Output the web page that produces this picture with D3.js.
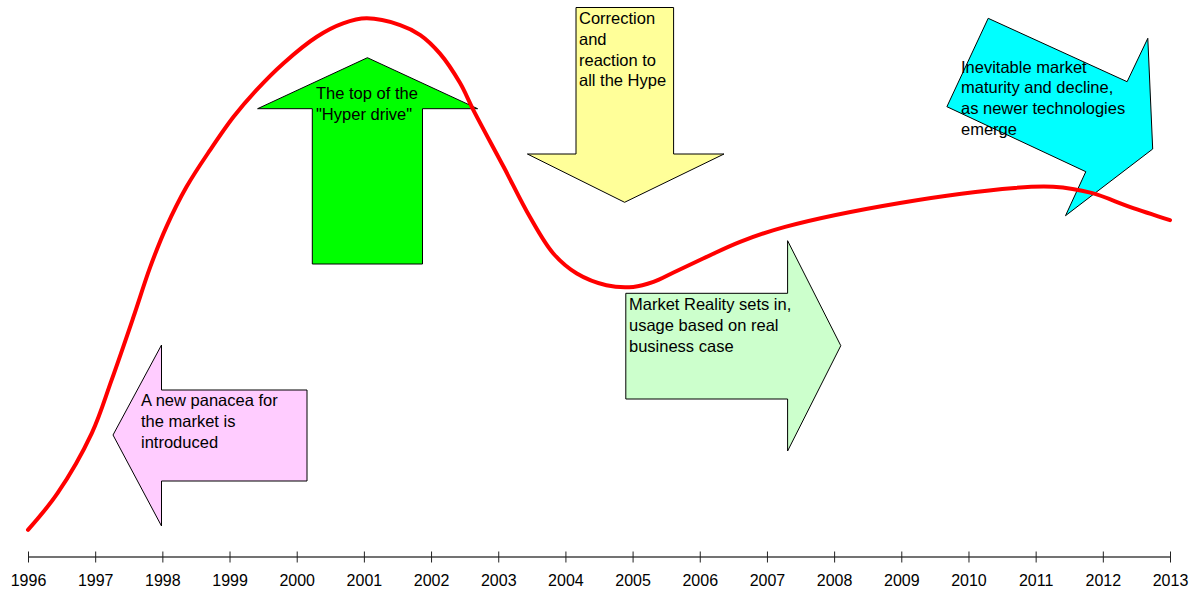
<!DOCTYPE html>
<html>
<head>
<meta charset="utf-8">
<script src="https://cdn.jsdelivr.net/npm/d3@7/dist/d3.min.js"></script>
<style>
  html, body { margin: 0; padding: 0; background: #fff; }
  svg { display: block; font-family: "Liberation Sans", Arial, sans-serif; }
</style>
</head>
<body>
<svg id="chart" width="1194" height="592"></svg>
<script>
// ---- Data ----
const tickYears = [1996, 1997, 1998, 1999, 2000, 2001, 2002, 2003, 2004,
                   2005, 2006, 2007, 2008, 2009, 2010, 2011, 2012, 2013];
const curveYears = [1996.0, 1996.44, 1996.95, 1997.24, 1997.57, 1997.82, 1998.06,
                    1998.36, 1998.71, 1999.06, 1999.40, 1999.80, 2000.30, 2000.69, 2001.04,
                    2001.54, 2001.84, 2002.13, 2002.43, 2002.63, 2003.08, 2003.47, 2003.82,
                    2004.17, 2004.61, 2005.01, 2005.31, 2005.61, 2006.05, 2006.60, 2007.27,
                    2008.98, 2010.69, 2011.26, 2011.83, 2012.40, 2013.0];
const curveValues = [4.7, 11.3, 22.1, 31.5, 43.0, 52.0, 59.2,
                     66.4, 73.0, 79.0, 83.8, 88.6, 93.4, 95.8, 96.7,
                     95.5, 93.7, 90.4, 85.1, 80.2, 70.0, 61.0, 54.4,
                     50.8, 48.7, 48.4, 49.3, 51.0, 53.5, 56.5, 59.2,
                     63.5, 66.2, 66.4, 65.3, 62.8, 60.4];
const noteTexts = [
  ["A new panacea for", "the market is", "introduced"],
  ["The top of the", "\"Hyper drive\""],
  ["Correction", "and", "reaction to", "all the Hype"],
  ["Market Reality sets in,", "usage based on real", "business case"],
  ["Inevitable market", "maturity and decline,", "as newer technologies", "emerge"]
];

// ---- Layout ----
const svg = d3.select("#chart");
const x = d3.scaleLinear().domain([1996, 2013]).range([28, 1170]);
const y = d3.scaleLinear().domain([0, 100]).range([556, 0]);
const axisY = 556.5;

const notes = [
  { fill: "#FFCCFF", pts: [[113,435],[161.5,345],[161.5,390],[307,390],[307,481],[161.5,481],[161.5,526]],
    tx: 141, ty: 406, lh: 21 },
  { fill: "#00FF00", pts: [[367.4,57.7],[477.6,108.7],[422.5,108.7],[422.5,264],[312.3,264],[312.3,108.7],[257.6,108.7]],
    tx: 316, ty: 99, lh: 21 },
  { fill: "#FFFF99", pts: [[576,7.5],[673.6,7.5],[673.6,154],[724,154],[624.6,202.3],[527.4,154],[576,154]],
    tx: 579, ty: 24, lh: 20.8 },
  { fill: "#CCFFCC", pts: [[625.8,293.3],[787.6,293.3],[787.6,240.7],[840.8,345.7],[787.6,451],[787.6,399],[625.8,399]],
    tx: 629, ty: 310, lh: 20.8 },
  { fill: "#00FFFF", pts: [[988.2,18.3],[1127.1,81.7],[1147.8,38.3],[1152.7,149],[1065.5,215.7],[1085.8,171.7],[946.9,106.7]],
    tx: 961, ty: 72.5, lh: 20.8 }
];

// Arrow shapes
const gNotes = svg.append("g");
gNotes.selectAll("path.arrow")
  .data(notes)
  .join("path")
  .attr("class", "arrow")
  .attr("d", d => d3.line()(d.pts) + "Z")
  .attr("fill", d => d.fill)
  .attr("stroke", "#000")
  .attr("stroke-width", 1)
  .attr("stroke-linejoin", "miter");

// Axis
const axis = d3.axisBottom(x)
  .tickValues(tickYears)
  .tickFormat(d3.format("d"))
  .tickSize(6)
  .tickSizeOuter(0);
const gAxis = svg.append("g")
  .attr("transform", `translate(0,${axisY})`)
  .call(axis);
gAxis.select(".domain").attr("stroke", "#444").attr("stroke-width", 1.3);
gAxis.selectAll(".tick line").attr("y1", -5).attr("y2", 6).attr("stroke", "#222").attr("stroke-width", 1);
gAxis.selectAll(".tick text")
  .attr("y", 29).attr("dy", null)
  .attr("fill", "#000")
  .style("font-size", "16px")
  .style("font-family", "'Liberation Sans', Arial, sans-serif");

// Curve
const pts = curveYears.map((yr, i) => [yr, curveValues[i]]);
svg.append("path")
  .datum(pts)
  .attr("fill", "none")
  .attr("stroke", "#FF0000")
  .attr("stroke-width", 4)
  .attr("stroke-linecap", "round")
  .attr("d", d3.line().x(d => x(d[0])).y(d => y(d[1])).curve(d3.curveCatmullRom.alpha(0.5)));

// Notes text
const gText = svg.append("g");
notes.forEach((n, i) => {
  const t = gText.append("text")
    .attr("x", n.tx).attr("y", n.ty)
    .attr("fill", "#000")
    .style("font-size", "16.5px");
  noteTexts[i].forEach((line, j) => {
    t.append("tspan").attr("x", n.tx).attr("y", n.ty + j * n.lh).text(line);
  });
});
</script>
</body>
</html>
